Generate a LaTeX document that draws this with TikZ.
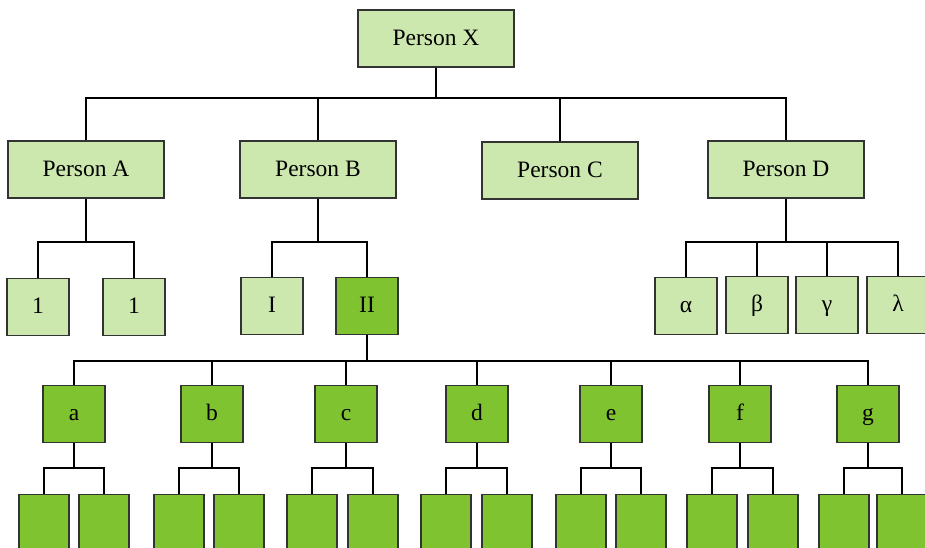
\documentclass[tikz,border=0pt]{standalone}
\usepackage{fontspec}
\setmainfont{Liberation Serif}
\definecolor{lightg}{HTML}{CDE8AF}
\definecolor{darkg}{HTML}{80C330}
\definecolor{edge}{HTML}{333333}
\tikzset{
  base/.style={draw=edge, line width=1.1pt, inner sep=0pt, minimum height=57pt, text height=17pt, text depth=4pt, font=\fontsize{23.5}{28}\selectfont, anchor=center},
  wide/.style={base, fill=lightg, minimum width=156pt},
  sq/.style={base, fill=lightg, minimum width=62pt},
  sqd/.style={base, fill=darkg, minimum width=62pt},
  leaf/.style={base, fill=darkg, minimum width=50pt},
  conn/.style={draw=black, line width=1.6pt}
}
\begin{document}
\begin{tikzpicture}[x=1pt,y=-1pt]
\useasboundingbox (0,0) rectangle (925,547);
\clip (0,0) rectangle (925,547);
\coordinate (b1) at (0,98);
\coordinate (b2) at (0,242);
\coordinate (b3) at (0,361);
\coordinate (b4) at (0,468);
% level 1
\node[wide] (X) at (436,38.5) {Person X};
\node[wide] (A) at (86,169.5) {Person A};
\node[wide] (B) at (318,169.5) {Person B};
\node[wide] (C) at (560,170.5) {Person C};
\node[wide] (D) at (786,169.5) {Person D};
% level 2
\node[sq] (A1) at (38,306.8) {1};
\node[sq] (A2) at (134,306.8) {1};
\node[sq] (BI) at (272,305.7) {I};
\node[sqd] (BII) at (367,305.7) {II};
\node[sq] (Da) at (686,305.7) {α};
\node[sq] (Db) at (757,305) {β};
\node[sq] (Dc) at (827,305) {γ};
\node[sq] (Dd) at (898,305) {λ};
% level 3
\foreach \n/\x in {a/74,b/212,c/346,d/477,e/611,f/740,g/868}{
  \node[sqd] (L\n) at (\x,414) {\n};
}
% leaves
\foreach \n/\x/\y in {a/44/104,b/179/239,c/312/373,d/446/507,e/581/641,f/712/773,g/844/902}{
  \node[leaf] (P\n1) at (\x,523) {};
  \node[leaf] (P\n2) at (\y,523) {};
}
% connectors
\foreach \c in {A,B,C,D}{
  \draw[conn] (X.south) -- (X.south |- b1) -| (\c.north);
}
\foreach \c in {A1,A2}{
  \draw[conn] (A.south) -- (A.south |- b2) -| (\c.north);
}
\foreach \c in {BI,BII}{
  \draw[conn] (B.south) -- (B.south |- b2) -| (\c.north);
}
\foreach \c in {Da,Db,Dc,Dd}{
  \draw[conn] (D.south) -- (D.south |- b2) -| (\c.north);
}
\foreach \n in {a,b,c,d,e,f,g}{
  \draw[conn] (BII.south) -- (BII.south |- b3) -| (L\n.north);
  \draw[conn] (L\n.south) -- (L\n.south |- b4) -| (P\n1.north);
  \draw[conn] (L\n.south) -- (L\n.south |- b4) -| (P\n2.north);
}
\end{tikzpicture}
\end{document}
